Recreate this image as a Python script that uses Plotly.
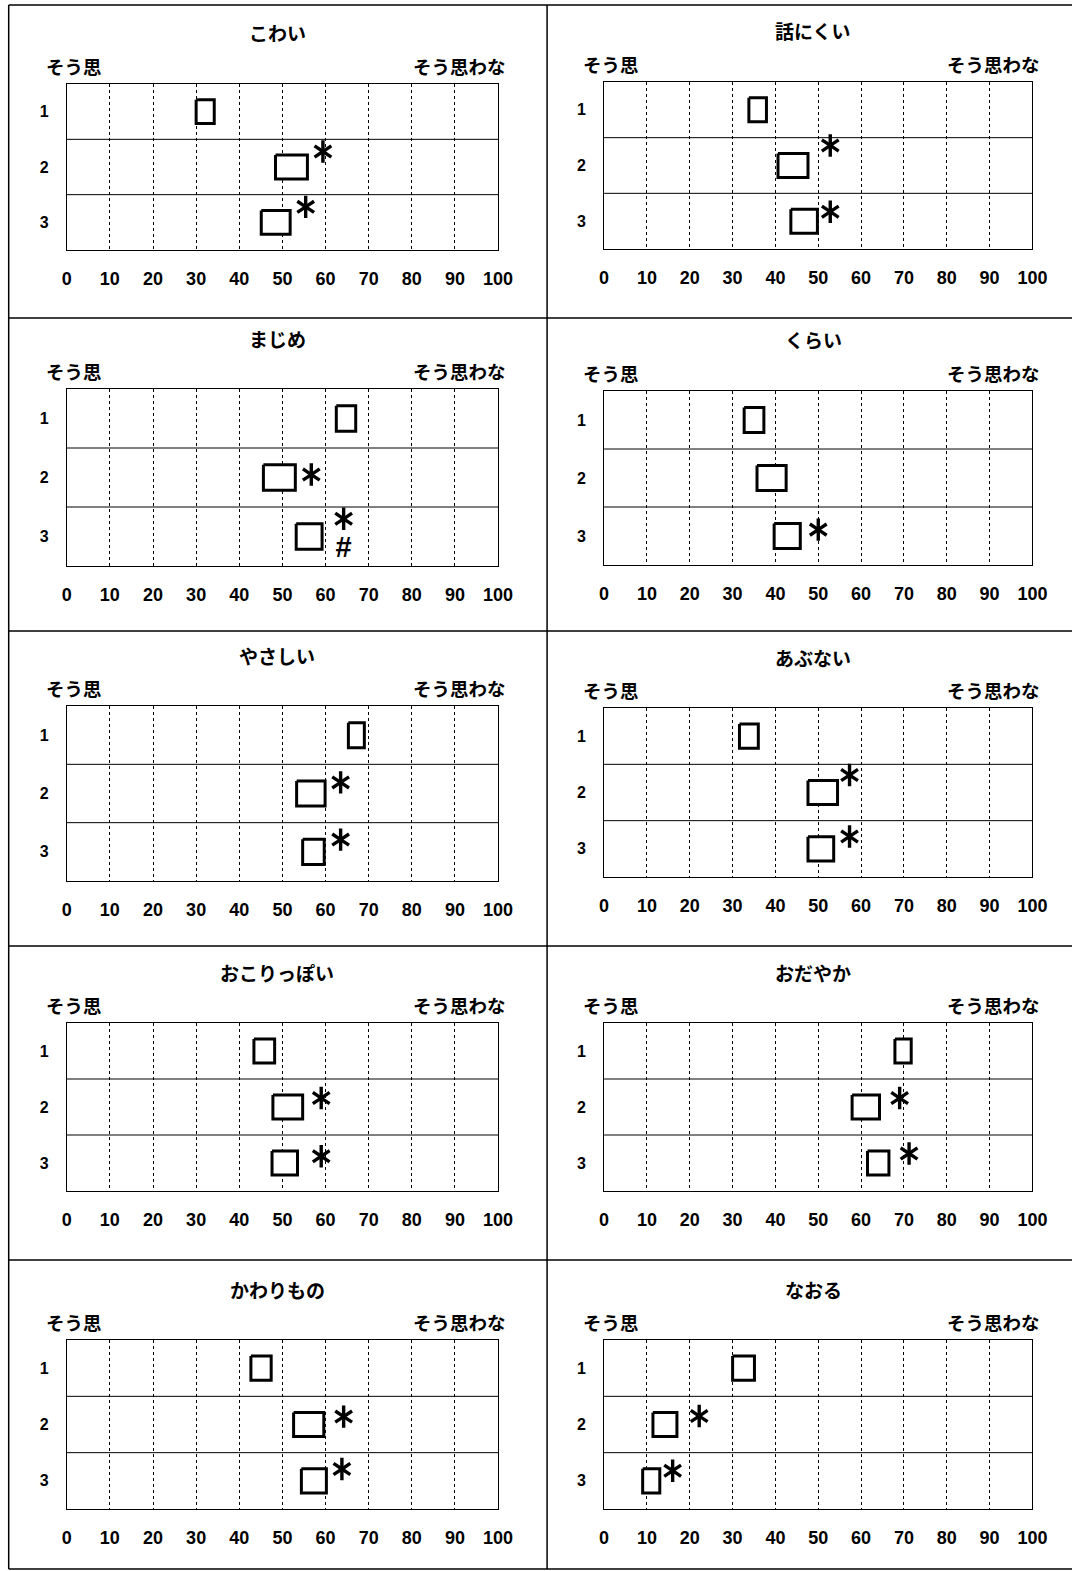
import plotly.graph_objects as go

W, H = 1092, 1571   # paper size; the page photo maps paper x -> 4.3 + 0.981 * x

# ---------------- data ----------------
titles = ["こわい", "話にくい", "まじめ", "くらい", "やさしい",
          "あぶない", "おこりっぽい", "おだやか", "かわりもの", "なおる"]
groups = [1, 2, 3]
x_ticks = [0, 10, 20, 30, 40, 50, 60, 70, 80, 90, 100]
left_label = "そう思"
right_label = "そう思わな"

# lower / upper edge of each box (groups 1, 2, 3)
box_lo = [
    [30.0, 48.4, 45.1],   # こわい
    [33.8, 40.6, 43.6],   # 話にくい
    [62.5, 45.6, 53.2],   # まじめ
    [32.7, 35.7, 39.7],   # くらい
    [65.3, 53.3, 54.7],   # やさしい
    [31.6, 47.6, 47.6],   # あぶない
    [43.4, 47.8, 47.6],   # おこりっぽい
    [67.9, 57.9, 61.5],   # おだやか
    [42.7, 52.6, 54.4],   # かわりもの
    [30.0, 11.4, 9.0],    # なおる
]
box_hi = [
    [34.2, 55.8, 51.8],
    [37.9, 47.6, 49.8],
    [67.0, 53.0, 59.2],
    [37.3, 42.5, 45.8],
    [69.0, 59.9, 59.7],
    [36.0, 54.5, 53.6],
    [48.2, 54.7, 53.5],
    [71.7, 64.3, 66.5],
    [47.4, 59.6, 60.2],
    [35.1, 17.0, 13.0],
]
# significance marks: (group, x value, symbol)
marks = [
    [(2, 59.4, "*"), (3, 55.4, "*")],
    [(2, 52.8, "*"), (3, 52.8, "*")],
    [(2, 56.7, "*"), (3, 64.2, "*"), (3, 64.2, "#")],
    [(3, 50.0, "*")],
    [(2, 63.5, "*"), (3, 63.5, "*")],
    [(2, 57.3, "*"), (3, 57.3, "*")],
    [(2, 59.0, "*"), (3, 59.0, "*")],
    [(2, 69.0, "*"), (3, 71.2, "*")],
    [(2, 64.2, "*"), (3, 63.8, "*")],
    [(2, 22.2, "*"), (3, 16.0, "*")],
]

# ---------------- placement / style ----------------
mark_dy = [
    [-0.28, -0.28],
    [-0.36, -0.17],
    [-0.05, -0.30, 0.22],
    [-0.11],
    [-0.19, -0.21],
    [-0.31, -0.22],
    [-0.16, -0.12],
    [-0.16, -0.17],
    [-0.14, -0.21],
    [-0.15, -0.18],
]
BOX_HALF = 0.215
col_x = [(66, 497), (603, 1031)]
row_y = [
    [(84, 250), (389, 566), (706, 881), (1023, 1191), (1340, 1509)],
    [(82, 249), (391, 565), (708, 877), (1023, 1191), (1340, 1509)],
]
JP = "Noto Sans CJK JP"
NUM = "Liberation Sans"

fig = go.Figure()
annotations = []
shapes = []


def px(x):
    """target picture x (px) -> paper fraction"""
    return min(max(((x - 4.3) / 0.981) / W, 0.0), 1.0)


def py(y):
    return 1 - y / H


for i in range(10):
    col, row = i % 2, i // 2
    x0, x1 = col_x[col]
    y0, y1 = row_y[col][row]
    n = "" if i == 0 else str(i + 1)
    xa, ya = "x" + n, "y" + n

    fig.update_layout(**{
        "xaxis" + n: dict(domain=[px(x0), px(x1)], anchor=ya, range=[0, 100],
                          tickvals=x_ticks, ticktext=[str(v) for v in x_ticks],
                          showgrid=True, gridcolor="black", griddash="dot", gridwidth=1,
                          showline=True, linecolor="black", linewidth=1, mirror=True,
                          zeroline=False, ticks="", ticklabelstandoff=12,
                          tickfont=dict(family=NUM, size=18, color="black", weight="bold"),
                          fixedrange=True),
        "yaxis" + n: dict(domain=[py(y1), py(y0)], anchor=xa, range=[3.5, 0.5],
                          tickvals=groups, ticktext=[str(g) for g in groups],
                          showgrid=False, showline=True, linecolor="black", linewidth=1,
                          mirror=True, zeroline=False, ticks="", ticklabelstandoff=14,
                          tickfont=dict(family=NUM, size=16, color="black", weight="bold"),
                          fixedrange=True),
    })

    # row dividers
    for yv in (1.5, 2.5):
        shapes.append(dict(type="line", xref=xa + " domain", yref=ya, x0=0, x1=1,
                           y0=yv, y1=yv, line=dict(color="black", width=1)))

    # boxes
    for g, lo, hi in zip(groups, box_lo[i], box_hi[i]):
        fig.add_trace(go.Scatter(
            x=[lo, hi, hi, lo, lo],
            y=[g - BOX_HALF, g - BOX_HALF, g + BOX_HALF, g + BOX_HALF, g - BOX_HALF],
            mode="lines", fill="toself", fillcolor="white",
            line=dict(color="black", width=3), xaxis=xa, yaxis=ya,
            hoverinfo="skip", showlegend=False))

    # marks
    for (g, xv, sym), dy in zip(marks[i], mark_dy[i]):
        if sym == "*":
            for s in ("y-up-open", "y-down-open"):
                fig.add_trace(go.Scatter(
                    x=[xv], y=[g + dy], mode="markers",
                    marker=dict(symbol=s, size=14, color="black",
                                line=dict(color="black", width=3.4)),
                    xaxis=xa, yaxis=ya, hoverinfo="skip", showlegend=False,
                    cliponaxis=False))
        else:
            fig.add_trace(go.Scatter(
                x=[xv], y=[g + dy], mode="text", text=[sym], textposition="middle center",
                textfont=dict(family=NUM, size=29, color="black", weight="bold"),
                xaxis=xa, yaxis=ya, hoverinfo="skip", showlegend=False,
                cliponaxis=False))

    # titles and end labels
    titlefont = dict(family=JP, size=19, color="black", weight="bold")
    jpfont = dict(family=JP, size=18.5, color="black", weight="bold")
    annotations.append(dict(text=titles[i], xref="paper", yref="paper",
                            x=px((x0 + x1) / 2 - 5), y=py(y0 - 51),
                            xanchor="center", yanchor="middle", showarrow=False,
                            font=titlefont))
    annotations.append(dict(text=left_label, xref="paper", yref="paper",
                            x=px(x0 - 23), y=py(y0 - 18),
                            xanchor="left", yanchor="middle", showarrow=False,
                            font=jpfont))
    annotations.append(dict(text=right_label, xref="paper", yref="paper",
                            x=px(x1 + 10), y=py(y0 - 18),
                            xanchor="right", yanchor="middle", showarrow=False,
                            font=jpfont))

# outer frame (left, top, bottom) and panel separators
frame = dict(color="black", width=1.5)
shapes.append(dict(type="line", xref="paper", yref="paper", x0=px(8), x1=px(8),
                   y0=py(1569), y1=py(5), line=frame))
for yy in (5, 318, 631, 946, 1260, 1569):
    shapes.append(dict(type="line", xref="paper", yref="paper", x0=px(8), x1=px(1072),
                       y0=py(yy), y1=py(yy), line=frame))
shapes.append(dict(type="line", xref="paper", yref="paper", x0=px(546), x1=px(546),
                   y0=py(1569), y1=py(5), line=frame))

fig.update_layout(width=W, height=H, autosize=False,
                  margin=dict(l=0, r=0, t=0, b=0),
                  paper_bgcolor="white", plot_bgcolor="white",
                  showlegend=False, annotations=annotations, shapes=shapes)

fig.write_html(
    "out.html",
    config={"responsive": False, "displayModeBar": False},
    post_script="document.body.style.margin='0';",
)
